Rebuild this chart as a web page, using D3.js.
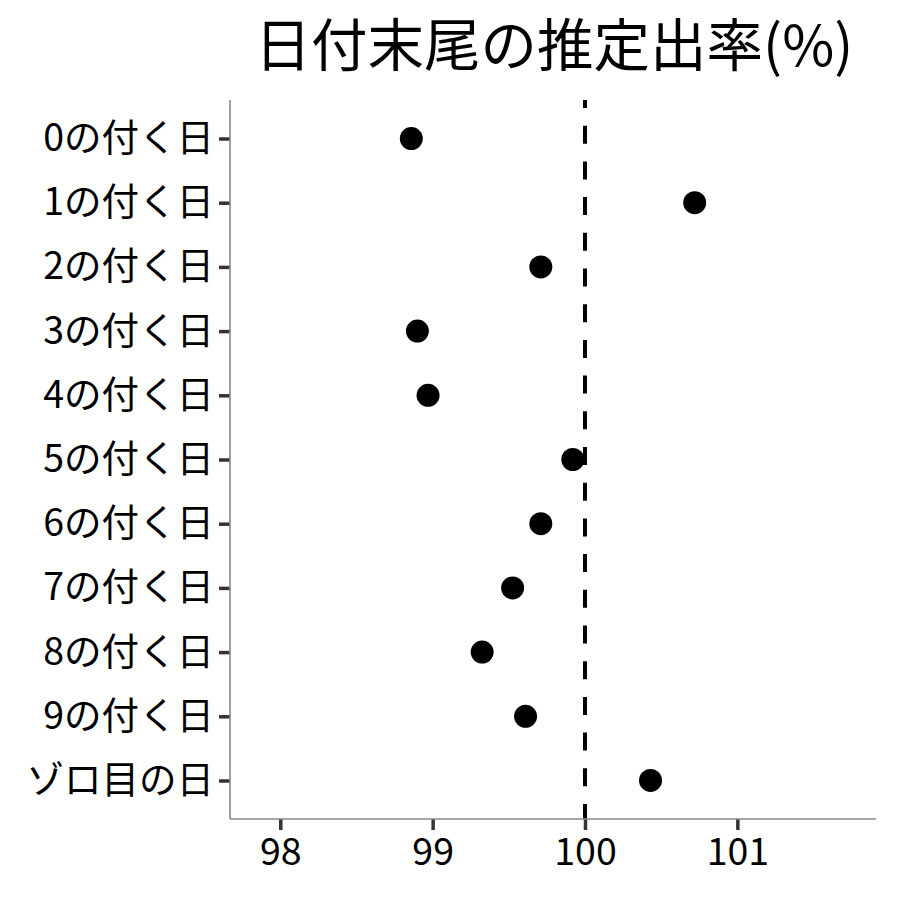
<!DOCTYPE html>
<html>
<head>
<meta charset="utf-8">
<script src="https://cdn.jsdelivr.net/npm/d3@7"></script>
<style>
  html, body { margin: 0; padding: 0; background: #fff; }
  text { font-family: "Noto Sans CJK JP", "Noto Sans", sans-serif; }
</style>
</head>
<body>
<svg id="chart" width="900" height="900"></svg>
<script>
const title = "日付末尾の推定出率(%)";
const categories = ["0の付く日","1の付く日","2の付く日","3の付く日","4の付く日","5の付く日","6の付く日","7の付く日","8の付く日","9の付く日","ゾロ目の日"];
const values = [98.86, 100.72, 99.71, 98.90, 98.97, 99.92, 99.71, 99.525, 99.325, 99.61, 100.43];
const xTicks = [98, 99, 100, 101];
const refValue = 100;
const xDomain = [97.67, 101.91];

(function () {
const svg = d3.select("#chart");
const mL = 230, mR = 876, mT = 100, mB = 819;

const x = d3.scaleLinear().domain(xDomain).range([mL, mR]);
const y = d3.scalePoint().domain(categories).range([mT, mB]).padding(0.6);

// title
svg.append("text")
  .attr("x", (mL + mR) / 2 + 1)
  .attr("y", 66)
  .attr("text-anchor", "middle")
  .attr("font-size", 56.5)
  .attr("fill", "#000")
  .text(title);

// reference dashed line
svg.append("line")
  .attr("x1", x(refValue)).attr("x2", x(refValue))
  .attr("y1", mT).attr("y2", mB)
  .attr("stroke", "#000")
  .attr("stroke-width", 4)
  .attr("stroke-dasharray", "18 17.7")
  .attr("stroke-dashoffset", 10);

// points
svg.append("g").selectAll("circle")
  .data(categories.map((c, i) => ({c, v: values[i]})))
  .join("circle")
  .attr("cx", d => x(d.v))
  .attr("cy", d => y(d.c))
  .attr("r", 11.5)
  .attr("fill", "#000");

// axes
const yAxis = svg.append("g")
  .attr("transform", `translate(${mL},0)`)
  .call(d3.axisLeft(y).tickSize(11).tickPadding(5));
const xAxis = svg.append("g")
  .attr("transform", `translate(0,${mB})`)
  .call(d3.axisBottom(x).tickValues(xTicks).tickSize(11).tickPadding(8).tickFormat(d3.format("d")));

[yAxis, xAxis].forEach(g => {
  g.select(".domain").remove();
  g.selectAll(".tick line").attr("stroke", "#333").attr("stroke-width", 3.5);
  g.selectAll(".tick text")
    .attr("fill", "#000")
    .attr("font-size", 37.5)
    .attr("font-family", '"Noto Sans CJK JP", "Noto Sans", sans-serif');
});

// axis lines (grey)
svg.append("line")
  .attr("x1", mL).attr("x2", mL).attr("y1", mT).attr("y2", mB)
  .attr("stroke", "#888").attr("stroke-width", 1.6);
svg.append("line")
  .attr("x1", mL).attr("x2", mR).attr("y1", mB).attr("y2", mB)
  .attr("stroke", "#888").attr("stroke-width", 1.6);
})();
</script>
</body>
</html>
